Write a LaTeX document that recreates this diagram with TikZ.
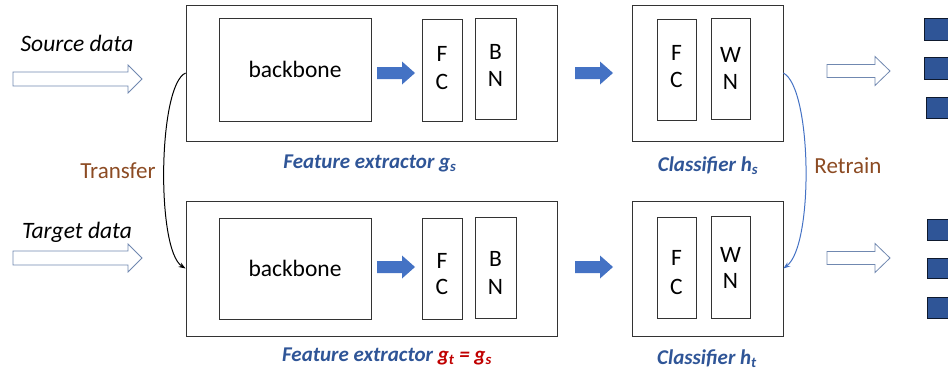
\documentclass[tikz,border=0pt]{standalone}
\usepackage{fontspec}
\setmainfont{Carlito}
\usetikzlibrary{arrows.meta}
\definecolor{lblue}{HTML}{2F5597}
\definecolor{ablue}{HTML}{4472C4}
\definecolor{obrd}{HTML}{7088B0}
\definecolor{brn}{HTML}{8C4B23}
\definecolor{rd}{HTML}{C00000}
\definecolor{sqb}{HTML}{2F5597}
\begin{document}
\begin{tikzpicture}[x=1pt,y=-1pt,
  box/.style={draw=black!80, line width=0.8pt, inner sep=0pt},
  txt/.style={font=\fontsize{23.5}{27}\selectfont, inner sep=0pt},
  lbl/.style={font=\fontsize{21}{24}\selectfont\bfseries\itshape, text=lblue, inner sep=0pt},
  side/.style={font=\fontsize{23}{26}\selectfont, text=brn, inner sep=0pt},
  datalbl/.style={font=\fontsize{23.5}{27}\selectfont\itshape, inner sep=0pt},
  solidarr/.style={fill=ablue, draw=none},
  hollowarr/.style={fill=white, draw=obrd, line width=0.8pt, line join=miter},
  sq/.style={fill=sqb, draw=black!70!sqb, line width=0.8pt}]
\useasboundingbox (0,0) rectangle (948,372);
\clip (0,0) rectangle (948,372);
% block arrow: style, x1, xhead, x2, y, bodyhalf, headhalf
\newcommand\blockarr[7]{%
  \draw[#1] (#2,#5-#6) -- (#3,#5-#6) -- (#3,#5-#7) -- (#4,#5) -- (#3,#5+#7) -- (#3,#5+#6) -- (#2,#5+#6) -- cycle;}

% ---------- top row ----------
\node[datalbl] (src) at (77,43) {Source data};
\blockarr{hollowarr}{13}{128}{142}{79}{7}{14}

\node[box, minimum width=371pt, minimum height=136pt] (fe1) at (371.5,73) {};
\node[box, minimum width=152pt, minimum height=103pt] (bb1) at (295,69.5) {};
\node[txt] at (bb1.center) {backbone};
\node[box, minimum width=40pt, minimum height=102pt] (fc1) at (442,70) {};
\node[txt] at (442,54) {F};
\node[txt] at (442,82) {C};
\node[box, minimum width=41pt, minimum height=101pt] (bn1) at (495.5,68.5) {};
\node[txt] at (495.5,52) {B};
\node[txt] at (495.5,79) {N};
\blockarr{solidarr}{377}{402}{415}{73}{6}{11.5}
\node[lbl] (fe1l) at (370,163) {Feature extractor g\textsubscript{s}};

\blockarr{solidarr}{575}{600}{613}{73}{6}{11.5}
\node[box, minimum width=151pt, minimum height=136pt] (cl1) at (707.5,73) {};
\node[box, minimum width=39pt, minimum height=101pt] (cfc1) at (676.5,69.5) {};
\node[txt] at (676.5,53) {F};
\node[txt] at (676.5,80) {C};
\node[box, minimum width=39pt, minimum height=101pt] (wn1) at (730.5,68.5) {};
\node[txt] at (730.5,55) {W};
\node[txt] at (730.5,82) {N};
\node[lbl] (cl1l) at (708,166) {Classifier h\textsubscript{s}};

\blockarr{hollowarr}{827}{875}{890}{71}{6.5}{14.5}
\node[sq, minimum width=30pt, minimum height=22pt] (s1) at (939,29) {};
\node[sq, minimum width=30pt, minimum height=22pt] (s2) at (939,68) {};
\node[sq, minimum width=30pt, minimum height=21pt] (s3) at (941,107.5) {};

% ---------- bottom row ----------
\node[datalbl] (tgt) at (77,232) {Target data};
\blockarr{hollowarr}{13}{128}{142}{258}{7}{14}

\node[box, minimum width=371pt, minimum height=135pt] (fe2) at (371.5,268.5) {};
\node[box, minimum width=152pt, minimum height=101pt] (bb2) at (295,268.5) {};
\node[txt] at (bb2.center) {backbone};
\node[box, minimum width=40pt, minimum height=101pt] (fc2) at (442,268.5) {};
\node[txt] at (442,261) {F};
\node[txt] at (442,287) {C};
\node[box, minimum width=41pt, minimum height=101pt] (bn2) at (495.5,267.5) {};
\node[txt] at (495.5,259) {B};
\node[txt] at (495.5,287) {N};
\blockarr{solidarr}{377}{402}{415}{267}{6}{11.5}
\node[lbl] (fe2l) at (387,356) {Feature extractor \textcolor{rd}{g\textsubscript{t} = g\textsubscript{s}}};

\blockarr{solidarr}{575}{600}{613}{267}{6}{11.5}
\node[box, minimum width=151pt, minimum height=135pt] (cl2) at (707.5,268.5) {};
\node[box, minimum width=39pt, minimum height=101pt] (cfc2) at (676.5,267.5) {};
\node[txt] at (676.5,258) {F};
\node[txt] at (676.5,287) {C};
\node[box, minimum width=39pt, minimum height=102pt] (wn2) at (730.5,267) {};
\node[txt] at (730.5,255) {W};
\node[txt] at (730.5,281) {N};
\node[lbl] (cl2l) at (707,359) {Classifier h\textsubscript{t}};

\blockarr{hollowarr}{827}{875}{890}{258}{6.5}{14.5}
\node[sq, minimum width=30pt, minimum height=21pt] (s4) at (942,229.5) {};
\node[sq, minimum width=30pt, minimum height=20pt] (s5) at (942,268) {};
\node[sq, minimum width=30pt, minimum height=21pt] (s6) at (942,307.5) {};

% ---------- transfer / retrain ----------
\draw[-{Stealth[length=7pt,width=5pt]}, line width=1pt, black]
  (fe1.west) .. controls (158,85) and (156,250) .. (fe2.west);
\node[side] (tr) at (118,171) {Transfer};
\draw[-{Stealth[length=7pt,width=5pt]}, line width=1pt, ablue]
  (cl1.east) .. controls (812,88) and (814,245) .. (cl2.east);
\node[side] (rt) at (848,166) {Retrain};
\end{tikzpicture}
\end{document}
